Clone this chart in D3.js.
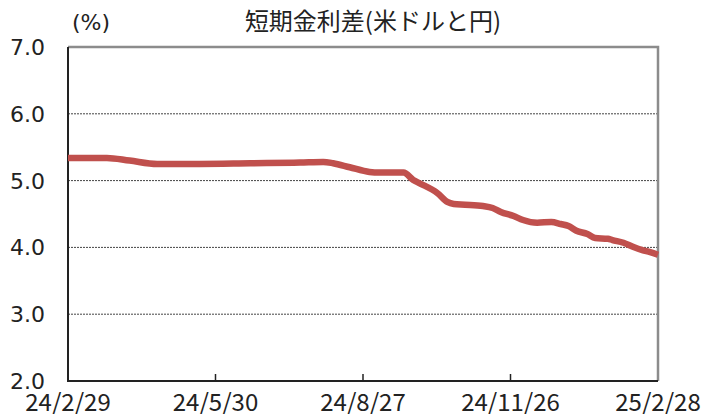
<!DOCTYPE html>
<meta charset="utf-8">
<style>
body { margin: 0; background: #fff; }
svg { display: block; background: #fff; }
.ylab { font: 22px "DejaVu Sans", sans-serif; fill: #222; }
.xlab { font: 24px "Noto Sans CJK JP", "Noto Sans", sans-serif; fill: #222; }
</style>
<svg width="703" height="414"></svg>
<script src="https://d3js.org/d3.v7.min.js"></script>
<script>

var dates = ["2024-02-29","2024-03-24","2024-04-07","2024-04-24","2024-05-20","2024-06-20",
  "2024-07-20","2024-08-03","2024-08-09","2024-08-19","2024-08-31","2024-09-06","2024-09-21",
  "2024-09-27","2024-10-01","2024-10-12","2024-10-18","2024-10-22","2024-10-29","2024-11-09",
  "2024-11-15","2024-11-20","2024-11-28","2024-12-04","2024-12-13","2024-12-22","2024-12-28",
  "2025-01-02","2025-01-07","2025-01-14","2025-01-19","2025-01-27","2025-01-30","2025-02-06",
  "2025-02-12","2025-02-18","2025-02-23","2025-02-28"];
var spread = [5.34,5.34,5.30,5.25,5.25,5.26,
  5.27,5.28,5.26,5.20,5.13,5.12,5.12,
  5.01,4.96,4.81,4.68,4.65,4.64,4.62,
  4.59,4.53,4.47,4.41,4.37,4.38,4.35,
  4.32,4.25,4.20,4.14,4.13,4.11,4.07,
  4.01,3.96,3.93,3.89];
var tickDates = ["2024-02-29","2024-05-30","2024-08-27","2024-11-26","2025-02-28"];
var tickNames = ["24/2/29","24/5/30","24/8/27","24/11/26","25/2/28"];
var yTicks = [2, 3, 4, 5, 6, 7];

var parse = d3.timeParse("%Y-%m-%d");
var data = dates.map(function(d, i) { return {date: parse(d), v: spread[i]}; });

var svg = d3.select("svg"),
    margin = {top: 47, right: 45, bottom: 33, left: 68},
    width = svg.attr("width") - margin.left - margin.right,
    height = svg.attr("height") - margin.top - margin.bottom;

// tick dates sit at equal spacing (trading-day axis), so piecewise time scale
var x = d3.scaleTime()
    .domain(tickDates.map(parse))
    .range(tickDates.map(function(d, i) { return i * width / (tickDates.length - 1); }));
var y = d3.scaleLinear().domain([2, 7]).range([height, 0]);

var g = svg.append("g")
    .attr("transform", "translate(" + margin.left + "," + margin.top + ")");

// dotted gridlines
g.selectAll(".grid").data(yTicks.filter(function(t) { return t > 2 && t < 7; }))
  .enter().append("line")
    .attr("x1", 0).attr("x2", width)
    .attr("y1", function(d) { return y(d); })
    .attr("y2", function(d) { return y(d); })
    .attr("stroke", "#444")
    .attr("stroke-width", 1)
    .attr("stroke-dasharray", "2,1");

// top + right border (grey)
g.append("path")
    .attr("d", "M0," + y(7) + "H" + width + "V" + height)
    .attr("fill", "none")
    .attr("stroke", "#8c8c8c")
    .attr("stroke-width", 2.5);

// left + bottom axes (black)
g.append("path")
    .attr("d", "M0," + y(7) + "V" + height + "H" + width)
    .attr("fill", "none")
    .attr("stroke", "#222")
    .attr("stroke-width", 2);

// x ticks pointing inward
g.selectAll(".xt").data(tickDates.slice(1, -1))
  .enter().append("line")
    .attr("x1", function(d) { return x(parse(d)); })
    .attr("x2", function(d) { return x(parse(d)); })
    .attr("y1", height).attr("y2", height - 7)
    .attr("stroke", "#222").attr("stroke-width", 1.5);

g.selectAll(".ylab").data(yTicks)
  .enter().append("text")
    .attr("class", "ylab")
    .attr("x", -23)
    .attr("y", function(d) { return y(d); })
    .attr("dy", "0.36em")
    .attr("text-anchor", "end")
    .text(function(d) { return d3.format(".1f")(d); });

g.selectAll(".xlab").data(tickDates)
  .enter().append("text")
    .attr("class", "xlab")
    .attr("x", function(d) { return x(parse(d)); })
    .attr("y", height + 30)
    .attr("text-anchor", "middle")
    .text(function(d, i) { return tickNames[i]; });

var line = d3.line()
    .x(function(d) { return x(d.date); })
    .y(function(d) { return y(d.v); })
    .curve(d3.curveMonotoneX);

g.append("path")
    .datum(data)
    .attr("fill", "none")
    .attr("stroke", "#c0504d")
    .attr("stroke-width", 6.5)
    .attr("stroke-linejoin", "round")
    .attr("d", line);

svg.append("text")
    .attr("x", 373).attr("y", 30)
    .attr("text-anchor", "middle")
    .style("font", "24px 'Noto Sans CJK JP', sans-serif")
    .style("fill", "#222")
    .text("短期金利差(米ドルと円)");

svg.append("text")
    .attr("x", 72).attr("y", 30)
    .style("font", "22px 'DejaVu Sans', sans-serif")
    .style("fill", "#222")
    .text("(%)");

</script>
